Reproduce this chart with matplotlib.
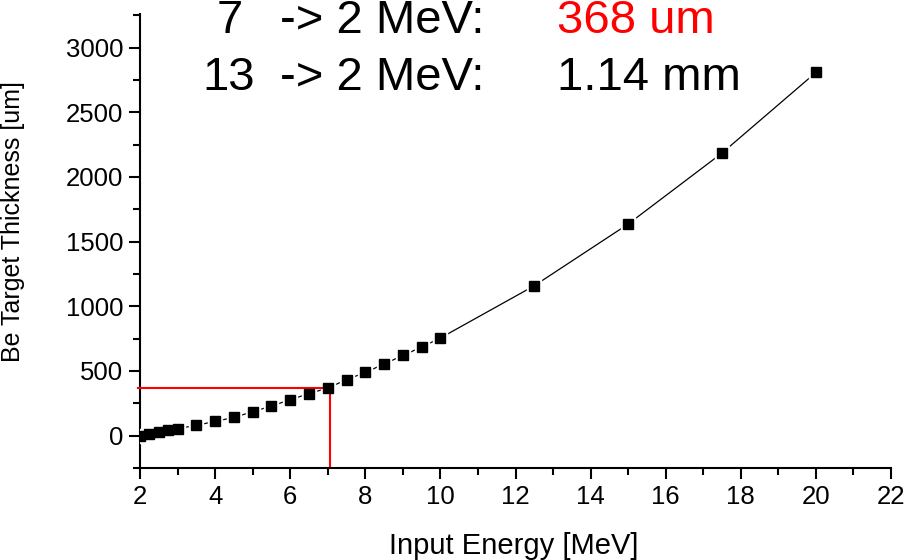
import matplotlib
matplotlib.use("Agg")
import matplotlib.pyplot as plt
from matplotlib.ticker import MultipleLocator

plt.rcParams['font.family'] = ['Liberation Sans', 'DejaVu Sans']

energy = [2, 2.25, 2.5, 2.75, 3, 3.5, 4, 4.5, 5, 5.5, 6, 6.5, 7, 7.5, 8, 8.5,
          9, 9.5, 10, 12.5, 15, 17.5, 20]
thickness = [0, 10, 28, 41, 54, 80, 110, 141, 185, 229, 278, 325, 368, 433,
             489, 554, 620, 685, 755, 1159, 1636, 2185, 2808]

marker_energy = 7.05
marker_thickness = 370

row_numbers = ["7", "13"]
row_middle = "-> 2 MeV:"
row_values = ["368 um", "1.14 mm"]
row_colors = ["#ff0000", "black"]

W, H = 910, 560
L, R, B, T = 140, 891, 468, 14
fig = plt.figure(figsize=(W / 100, H / 100), dpi=100)
ax = fig.add_axes([L / W, 1 - B / H, (R - L) / W, (B - T) / H])

ax.plot(energy, thickness, color='black', lw=0.9, zorder=2)
ax.plot(energy, thickness, 's', ms=10.5, color='white', zorder=3)
ax.plot(energy, thickness, 's', ms=6.7, color='black', zorder=5)

ax.plot([1.95, marker_energy], [marker_thickness, marker_thickness],
        color='#ff0000', lw=1.5, zorder=4, clip_on=False)
ax.plot([marker_energy, marker_energy], [marker_thickness, -235],
        color='#ff0000', lw=1.5, zorder=4)

ax.set_xlim(2, 22)
ax.set_ylim(-250, 3260)
ax.xaxis.set_major_locator(MultipleLocator(2))
ax.xaxis.set_minor_locator(MultipleLocator(1))
ax.yaxis.set_major_locator(MultipleLocator(500))
ax.yaxis.set_minor_locator(MultipleLocator(250))
ax.set_yticks([0, 500, 1000, 1500, 2000, 2500, 3000])

for s in ['top', 'right']:
    ax.spines[s].set_visible(False)
for s in ['left', 'bottom']:
    ax.spines[s].set_linewidth(1.5)

ax.tick_params(which='major', direction='out', length=8, width=1.5, labelsize=18.5, pad=4)
ax.tick_params(which='minor', direction='out', length=5, width=1.5)

ax.set_xlabel("Input Energy [MeV]", fontsize=21)
ax.xaxis.set_label_coords((514 - L) / (R - L), -(532 - B) / (B - T))
ax.set_ylabel("Be Target Thickness [um]", fontsize=18)
ax.yaxis.set_label_coords(-(L - 25) / (R - L), (B - 222) / (B - T))

def fx(px):
    return px / W

def fy(py):
    return 1 - py / H

num_x = [217, 202]
base_y = [33, 90]
for i in range(2):
    fig.text(fx(num_x[i]), fy(base_y[i]), row_numbers[i], fontsize=34, va='baseline', ha='left')
    fig.text(fx(280), fy(base_y[i]), row_middle, fontsize=34, va='baseline', ha='left')
    fig.text(fx(557), fy(base_y[i]), row_values[i], fontsize=34, va='baseline', ha='left',
             color=row_colors[i])

fig.savefig("out.png", dpi=100)
